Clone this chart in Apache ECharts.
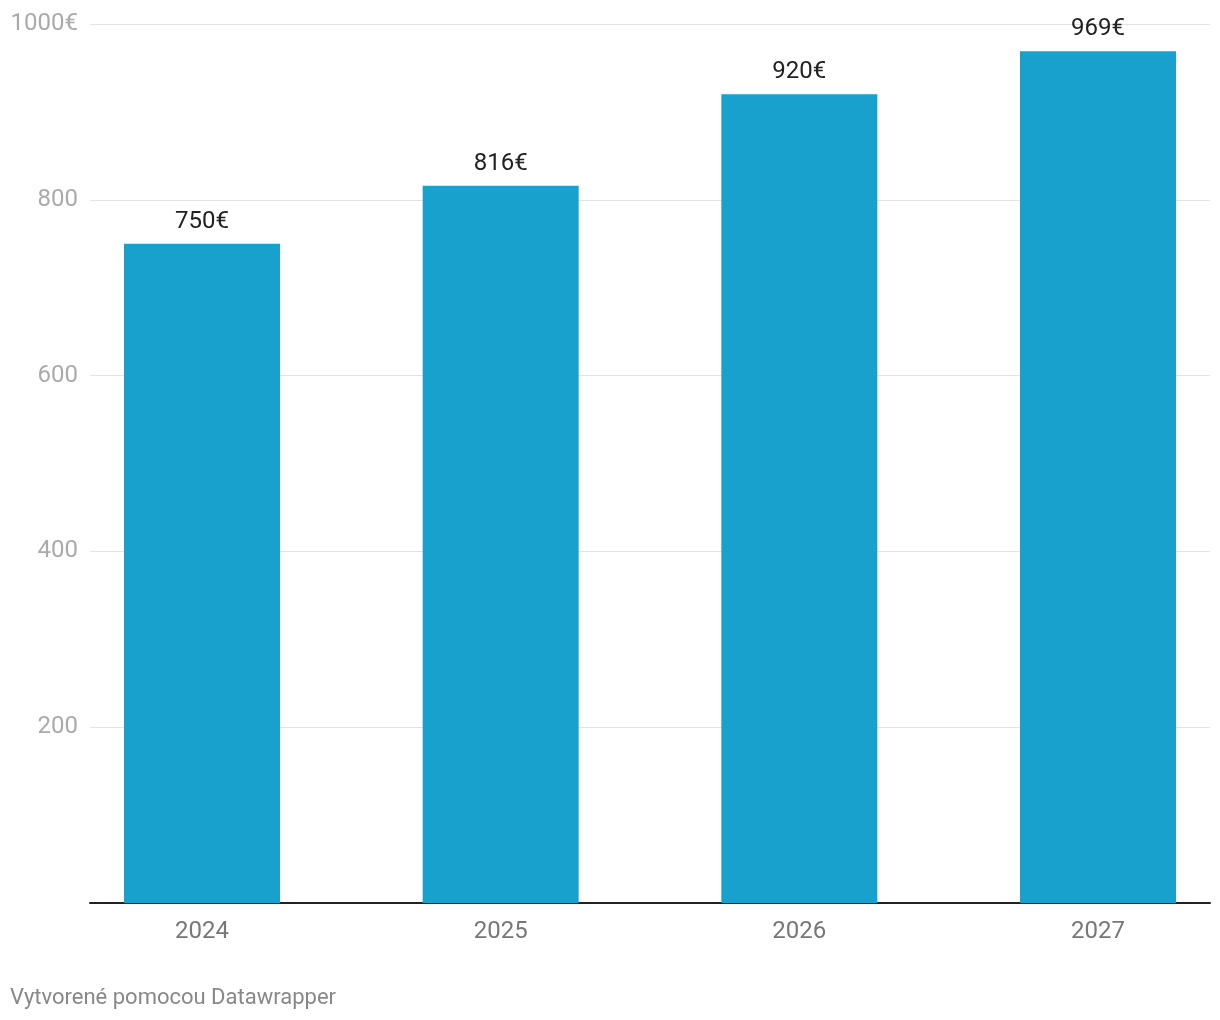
<!DOCTYPE html>
<html>
<head>
<meta charset="utf-8">
<script src="https://cdn.jsdelivr.net/npm/echarts@6/dist/echarts.min.js"></script>
<style>
html,body{margin:0;padding:0;background:#fff;}
#chart{width:1220px;height:1020px;}
</style>
</head>
<body>
<div id="chart"></div>
<script>
const years = ['2024', '2025', '2026', '2027'];
const prices = [750, 816, 920, 969];
const yTicks = [0, 200, 400, 600, 800, 1000];

const chart = echarts.init(document.getElementById('chart'));
const FONT = 'Roboto';
const idx = years.map((_, i) => i);
chart.setOption({
  animation: false,
  backgroundColor: '#fff',
  textStyle: { fontFamily: FONT },
  graphic: [{
    type: 'text', left: 10, top: 987,
    style: { text: 'Vytvorené pomocou Datawrapper', fill: '#888', font: '22px Roboto' }
  }],
  grid: { left: 90, right: 10, top: 24, bottom: 117 },
  xAxis: {
    type: 'value', min: -0.375, max: years.length - 1 + 0.375,
    axisLine: { show: true, onZero: false, lineStyle: { color: '#222', width: 2 } },
    axisTick: { show: false },
    splitLine: { show: false },
    axisLabel: { customValues: idx, color: '#777', fontSize: 24, fontFamily: FONT, margin: 17,
      formatter: v => years[Math.round(v)] }
  },
  yAxis: {
    type: 'value', min: yTicks[0], max: yTicks[yTicks.length - 1], interval: 200,
    axisLine: { show: false }, axisTick: { show: false },
    splitLine: { lineStyle: { color: '#e3e3e3', width: 1 } },
    axisLabel: { color: '#aaa', fontSize: 24, fontFamily: FONT, margin: 12, padding: [3, 0, 0, 0],
      formatter: v => v === 0 ? '' : (v === 1000 ? v + '€' : String(v)) }
  },
  series: [{
    type: 'bar', data: prices.map((v, i) => [i, v]), barWidth: 156,
    itemStyle: { color: '#19a1cd' },
    label: { show: true, position: 'top', distance: 10, color: '#222', fontSize: 24, fontFamily: FONT,
      formatter: p => p.value[1] + '€' }
  }]
});
</script>
</body>
</html>
